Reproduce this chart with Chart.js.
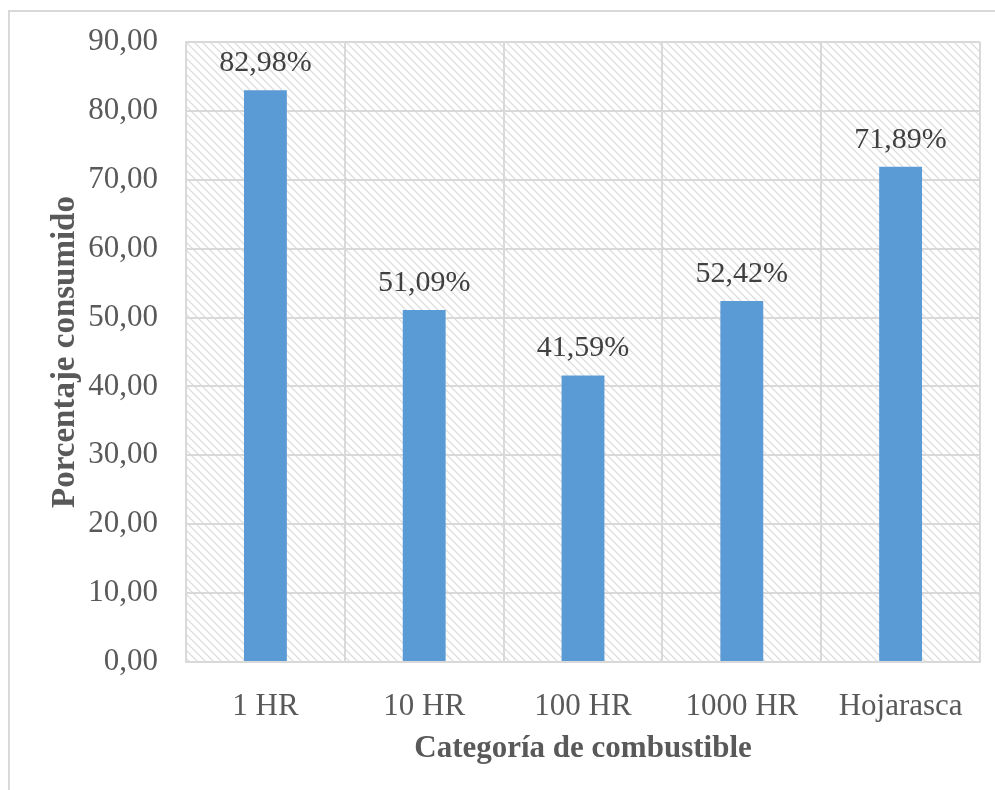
<!DOCTYPE html>
<html>
<head>
<meta charset="utf-8">
<script src="https://cdn.jsdelivr.net/npm/chart.js@4"></script>
<style>
  html, body { margin: 0; padding: 0; background: #fff; overflow: hidden; }
  #wrap { position: relative; width: 995px; height: 790px; }
  #frame { position: absolute; left: 8px; top: 10px; width: 1000px; height: 800px; border: 2px solid #d9d9d9; box-sizing: border-box; }
  canvas { position: absolute; left: 0; top: 0; }
</style>
</head>
<body>
<div id="wrap">
  <div id="frame"></div>
  <canvas id="chart" width="995" height="790"></canvas>
</div>
<script>
/* ── data ── */
const categories = ['1 HR', '10 HR', '100 HR', '1000 HR', 'Hojarasca'];
const consumed   = [82.98, 51.09, 41.59, 52.42, 71.89];
const yTicks     = [0, 10, 20, 30, 40, 50, 60, 70, 80, 90];

const fmt = function (v, d) { return v.toFixed(d).replace('.', ','); };

/* ── hatch fill for plot area ── */
function makeHatch() {
  const c = document.createElement('canvas');
  c.width = 8; c.height = 8;
  const g = c.getContext('2d');
  g.strokeStyle = '#dedede';
  g.lineWidth = 1.3;
  g.beginPath();
  g.moveTo(-2, -2); g.lineTo(10, 10);
  g.moveTo(-2, 6);  g.lineTo(2, 10);
  g.moveTo(6, -2);  g.lineTo(10, 2);
  g.stroke();
  return g.createPattern(c, 'repeat');
}

const hatchPlugin = {
  id: 'hatch',
  beforeDraw(chart) {
    const a = chart.chartArea, ctx = chart.ctx;
    ctx.save();
    ctx.fillStyle = makeHatch();
    ctx.fillRect(a.left, a.top, a.right - a.left, a.bottom - a.top);
    ctx.restore();
  }
};

const labelPlugin = {
  id: 'barLabels',
  afterDatasetsDraw(chart) {
    const ctx = chart.ctx;
    const meta = chart.getDatasetMeta(0);
    ctx.save();
    ctx.font = '30px "Liberation Serif", "Times New Roman", serif';
    ctx.fillStyle = '#404040';
    ctx.textAlign = 'center';
    ctx.textBaseline = 'alphabetic';
    meta.data.forEach(function (bar, i) {
      ctx.fillText(fmt(consumed[i], 2) + '%', bar.x, bar.y - 19);
    });
    ctx.restore();
  }
};

new Chart(document.getElementById('chart'), {
  type: 'bar',
  data: {
    labels: categories,
    datasets: [{
      data: consumed,
      backgroundColor: '#5b9bd5',
      borderWidth: 0,
      barPercentage: 0.27,
      categoryPercentage: 1
    }]
  },
  options: {
    responsive: false,
    animation: false,
    layout: { padding: { left: 46, top: 42, right: 15, bottom: 22 } },
    plugins: { legend: { display: false }, tooltip: { enabled: false } },
    scales: {
      x: {
        grid: { color: '#d9d9d9', lineWidth: 2, drawTicks: false, offset: true },
        border: { color: '#d9d9d9', width: 2 },
        ticks: { color: '#595959', padding: 26, font: { family: '"Liberation Serif", serif', size: 31 } },
        title: { display: true, text: 'Categoría de combustible', color: '#595959', padding: 0,
                 font: { family: '"Liberation Serif", serif', size: 31, weight: 'bold' } },
        afterFit(s) { s.height = 106; s.paddingLeft = 0; s.paddingRight = 0; }
      },
      y: {
        min: 0, max: 90,
        afterBuildTicks(s) { s.ticks = yTicks.map(function (v) { return { value: v }; }); },
        grid: { color: '#d9d9d9', lineWidth: 2, drawTicks: false },
        border: { color: '#d9d9d9', width: 2 },
        ticks: { color: '#595959', padding: 28, font: { family: '"Liberation Serif", serif', size: 31 },
                 callback(v) { return fmt(v, 2); } },
        title: { display: true, text: 'Porcentaje consumido', color: '#595959', padding: 0,
                 font: { family: '"Liberation Serif", serif', size: 33, weight: 'bold' } },
        afterFit(s) { s.width = 140; s.paddingTop = 0; s.paddingBottom = 0; }
      }
    }
  },
  plugins: [hatchPlugin, labelPlugin]
});
</script>
</body>
</html>
